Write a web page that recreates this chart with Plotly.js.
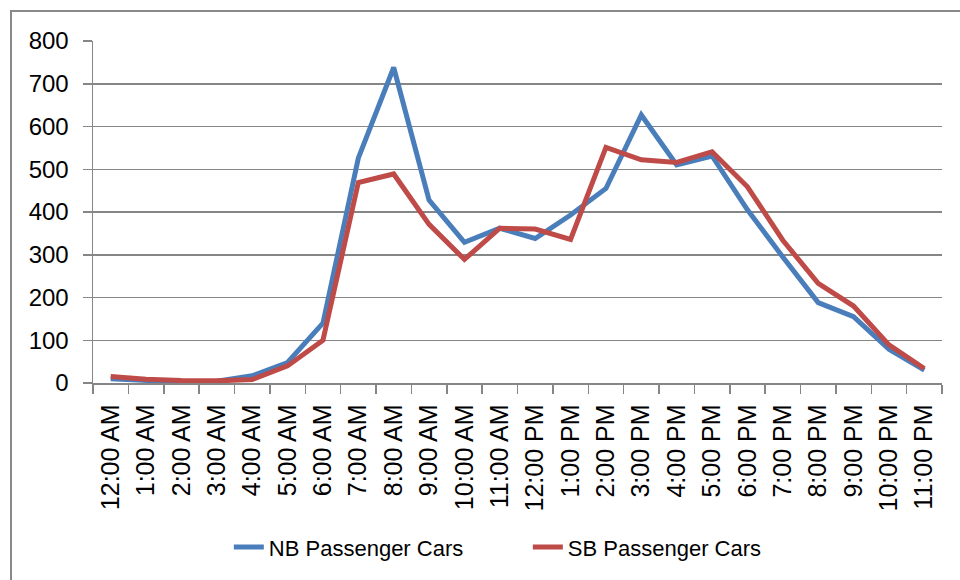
<!DOCTYPE html>
<html>
<head>
<meta charset="utf-8">
<script src="https://cdn.plot.ly/plotly-3.0.1.min.js"></script>
<style>
    html, body { margin: 0; padding: 0; overflow: hidden; background: #ffffff; }
    #frame { position: absolute; left: 10px; top: 10px; width: 1000px; height: 1000px; border: 2px solid #898989; box-sizing: border-box; }
    #chart { position: absolute; left: 0; top: 0; width: 960px; height: 580px; }
</style>
</head>
<body>
<div id="frame"></div>
<div id="chart"></div>
<script>
// Hourly counts
const hours = ['12:00 AM', '1:00 AM', '2:00 AM', '3:00 AM', '4:00 AM', '5:00 AM', '6:00 AM', '7:00 AM',
    '8:00 AM', '9:00 AM', '10:00 AM', '11:00 AM', '12:00 PM', '1:00 PM', '2:00 PM', '3:00 PM',
    '4:00 PM', '5:00 PM', '6:00 PM', '7:00 PM', '8:00 PM', '9:00 PM', '10:00 PM', '11:00 PM'];

const nbCars = [10, 7, 2, 4, 17, 48, 140, 526, 738, 428, 329, 362,
    338, 393, 455, 627, 510, 531, 405, 295, 188, 155, 79, 30];

const sbCars = [15, 9, 6, 5, 8, 40, 100, 469, 489, 371, 289, 362,
    360, 336, 551, 522, 516, 541, 459, 334, 233, 180, 89, 34];

const yTicks = [0, 100, 200, 300, 400, 500, 600, 700, 800];

var nbTrace = {
    x: hours,
    y: nbCars,
    name: 'NB Passenger Cars',
    type: 'scatter',
    mode: 'lines',
    line: { color: '#4a7ebb', width: 5 }
};

var sbTrace = {
    x: hours,
    y: sbCars,
    name: 'SB Passenger Cars',
    type: 'scatter',
    mode: 'lines',
    line: { color: '#be4b48', width: 5 }
};

var layout = {
    width: 960,
    height: 580,
    margin: { l: 93, r: 18, t: 41, b: 197 },
    paper_bgcolor: 'rgba(0,0,0,0)',
    plot_bgcolor: '#ffffff',
    font: { family: 'Liberation Sans, Arial, sans-serif', color: '#000000', size: 24 },
    showlegend: true,
    legend: {
        orientation: 'h',
        x: 0.16, xanchor: 'left',
        y: -0.48, yanchor: 'middle',
        entrywidth: 254,
        font: { size: 22 },
        bgcolor: 'rgba(0,0,0,0)'
    },
    xaxis: {
        type: 'category',
        range: [-0.5, 23.5],
        tickangle: -90,
        tickfont: { size: 25 },
        ticks: 'outside',
        tickson: 'boundaries',
        ticklen: 9,
        tickwidth: 1.5,
        tickcolor: '#868686',
        ticklabelstandoff: 10,
        showline: true,
        linecolor: '#868686',
        linewidth: 1.5,
        showgrid: false,
        zeroline: false,
        fixedrange: true
    },
    yaxis: {
        range: [0, 800],
        tickvals: yTicks,
        ticks: 'outside',
        ticklen: 9,
        tickwidth: 1.5,
        tickcolor: '#868686',
        ticklabelstandoff: 9,
        showline: true,
        linecolor: '#868686',
        linewidth: 1.5,
        showgrid: true,
        gridcolor: '#868686',
        gridwidth: 1.5,
        zeroline: false,
        fixedrange: true
    }
};

Plotly.newPlot('chart', [nbTrace, sbTrace], layout, { staticPlot: true });
</script>
</body>
</html>
